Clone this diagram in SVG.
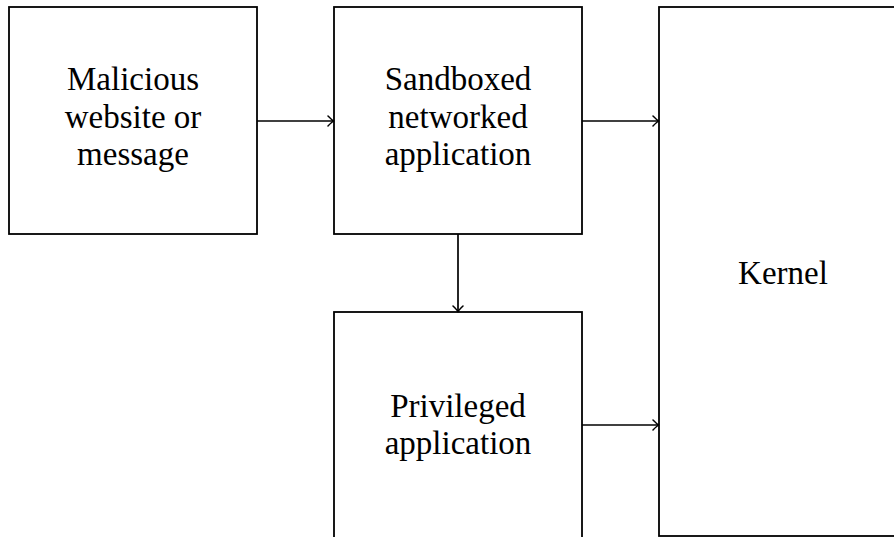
<svg xmlns="http://www.w3.org/2000/svg" width="894" height="537" viewBox="0 0 894 537">
<style>
.box{fill:#fff;stroke:#000;stroke-width:1.8}
.lbl{font-family:"Liberation Serif","Times New Roman",serif;font-size:33px;fill:#000;text-anchor:middle}
.edge{fill:none;stroke:#000;stroke-width:1.7}
</style>
<defs>
<marker id="arr" viewBox="-8 -6 10 12" markerWidth="10" markerHeight="12" refX="0" refY="0" orient="auto" markerUnits="userSpaceOnUse">
<path d="M -5.5 -5 Q -1.5 -1 0 0 Q -1.5 1 -5.5 5" fill="none" stroke="#000" stroke-width="1.5" stroke-linecap="round"/>
</marker>
</defs>
<g id="malicious">
<rect class="box" x="9" y="7" width="248" height="227"/>
<text class="lbl" x="133" y="90">Malicious</text>
<text class="lbl" x="133" y="128">website or</text>
<text class="lbl" x="133" y="165">message</text>
</g>
<g id="sandboxed">
<rect class="box" x="334" y="7" width="248" height="227"/>
<text class="lbl" x="458" y="90">Sandboxed</text>
<text class="lbl" x="458" y="128">networked</text>
<text class="lbl" x="458" y="165">application</text>
</g>
<g id="privileged">
<rect class="box" x="334" y="312" width="248" height="227"/>
<text class="lbl" x="458" y="417">Privileged</text>
<text class="lbl" x="458" y="454">application</text>
</g>
<g id="kernel">
<rect class="box" x="659" y="7" width="248" height="529"/>
<text class="lbl" x="783" y="284">Kernel</text>
</g>
<g id="connectors">
<path class="edge" d="M 257 121 L 333.5 121" marker-end="url(#arr)"/>
<path class="edge" d="M 582 121 L 658.5 121" marker-end="url(#arr)"/>
<path class="edge" d="M 458 234 L 458 311.5" marker-end="url(#arr)"/>
<path class="edge" d="M 582 425 L 658.5 425" marker-end="url(#arr)"/>
</g>
</svg>
